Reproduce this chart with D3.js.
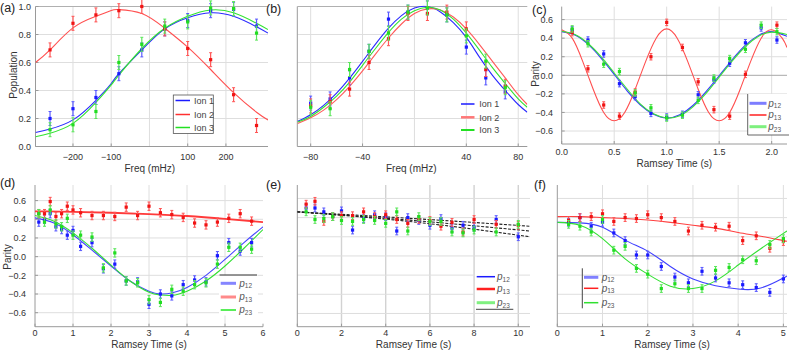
<!DOCTYPE html>
<html><head><meta charset="utf-8">
<script src="https://cdn.jsdelivr.net/npm/d3@7"></script>
<style>body{margin:0;background:#fff}svg{display:block}text{font-family:"Liberation Sans",Arial,sans-serif;fill:#333}</style>
</head><body><svg id="c" width="789" height="355"></svg>
<script>
// ---------- (a) ----------
const aFreq = [-260,-200,-140,-80,-20,40,100,160,220,280];
const aIon1 = [0.20,0.27,0.35,0.52,0.69,0.84,0.90,0.97,0.98,0.86];
const aIon2 = [0.69,0.88,0.94,0.97,1.00,0.84,0.70,0.62,0.37,0.15];
const aIon3 = [0.12,0.155,0.25,0.60,0.73,0.86,0.89,0.99,0.985,0.81];
const aFitFreq = [-298,-260,-200,-140,-100,-80,-20,40,100,160,220,280,310];
const aFit1 = [0.10,0.125,0.19,0.33,0.45,0.52,0.69,0.84,0.92,0.955,0.93,0.855,0.81];
const aFit2 = [0.60,0.69,0.847,0.93,0.972,0.978,0.95,0.845,0.71,0.55,0.385,0.245,0.19];
const aFit3 = [0.07,0.095,0.165,0.315,0.44,0.51,0.70,0.845,0.93,0.975,0.955,0.88,0.835];
const aXTicks = [-200,-100,100,200];
const aYTicks = [0,0.2,0.4,0.6,0.8,1.0];
const aErr = 0.05;
// ---------- (b) ----------
const bFreq = [-80,-65,-50,-35,-20,-5,10,25,40,55,70];
const bIon1 = [0.31,0.34,0.49,0.68,0.91,0.96,0.99,0.94,0.71,0.49,0.39];
const bIon2 = [0.29,0.32,0.41,0.60,0.77,0.95,0.95,0.96,0.84,0.55,0.43];
const bIon3 = [0.28,0.27,0.55,0.68,0.81,0.96,0.99,0.94,0.79,0.61,0.42];
const bFitFreq = [-90,-80,-70,-60,-50,-40,-30,-20,-10,0,10,20,30,40,50,60,70,80,87];
const bFit1 = [0.18,0.227,0.294,0.381,0.488,0.608,0.731,0.845,0.935,0.989,1.0,0.961,0.885,0.779,0.64,0.51,0.40,0.30,0.245];
const bFit2 = [0.165,0.205,0.26,0.335,0.43,0.54,0.66,0.775,0.875,0.95,0.983,0.975,0.925,0.84,0.73,0.61,0.49,0.37,0.30];
const bFit3 = [0.175,0.215,0.28,0.36,0.46,0.58,0.70,0.815,0.91,0.97,0.995,0.975,0.91,0.81,0.69,0.565,0.45,0.34,0.28];
const bXTicks = [-80,-40,40,80];
const bErr = 0.05;
// ---------- (c) ----------
const cTime = [0.1,0.25,0.4,0.55,0.7,0.85,1.0,1.15,1.3,1.45,1.6,1.75,1.9,2.05];
const cP12 = [0.49,0.38,0.23,-0.09,-0.23,-0.41,-0.45,-0.42,-0.21,-0.05,0.13,0.35,0.51,0.38];
const cP13 = [0.46,0.07,-0.32,-0.44,-0.18,0.20,0.57,0.30,-0.07,-0.37,-0.44,0.01,null,0.54];
const cP23 = [0.50,0.34,0.12,0.04,-0.19,-0.35,-0.46,-0.43,-0.27,-0.03,0.18,0.28,0.54,0.47];
const cFitT = [0,0.125,0.25,0.375,0.5,0.625,0.75,0.875,1,1.125,1.25,1.375,1.5,1.625,1.75,1.875,2,2.146];
const cFit12 = [0.47,0.435,0.335,0.185,0.01,-0.17,-0.32,-0.42,-0.46,-0.425,-0.325,-0.175,-0.005,0.17,0.325,0.43,0.47,0.42];
const cFit23 = [0.475,0.44,0.345,0.2,0.025,-0.15,-0.31,-0.415,-0.46,-0.435,-0.34,-0.195,-0.02,0.155,0.31,0.42,0.465,0.44];
const cFit13T = [0,0.1,0.2,0.3,0.4,0.5,0.6,0.7,0.8,0.9,1.0,1.1,1.2,1.3,1.4,1.5,1.6,1.7,1.8,1.9,2.0,2.1,2.146];
const cFit13 = [0.49,0.40,0.15,-0.15,-0.40,-0.49,-0.40,-0.15,0.15,0.40,0.50,0.40,0.15,-0.15,-0.40,-0.49,-0.40,-0.15,0.15,0.40,0.49,0.40,0.30];
const cXTicks = [0,0.5,1.0,1.5,2.0];
const parityTicks = [-0.6,-0.4,-0.2,0,0.2,0.4,0.6];
const cErr = 0.035;
// ---------- (d) ----------
const dTime = [0.1,0.25,0.4,0.55,0.7,0.85,1.0,1.2,1.5,1.8,2.1,2.4,2.7,3.0,3.3,3.6,3.9,4.2,4.5,4.8,5.1,5.4,5.7];
const dP12 = [0.37,0.40,0.46,0.32,0.29,0.23,0.28,0.11,0.15,-0.13,-0.08,-0.26,-0.27,-0.51,-0.40,-0.42,-0.30,-0.25,-0.27,0.01,0.15,0.06,0.15];
const dP13 = [0.46,0.46,0.59,0.43,0.46,0.54,0.50,0.47,0.44,0.44,0.43,0.53,0.44,0.54,0.47,0.45,0.42,0.36,0.34,0.37,0.41,0.46,0.38];
const dP23 = [0.46,0.37,0.50,0.35,0.32,0.41,0.23,0.23,0.21,-0.12,0.04,-0.26,-0.28,-0.46,-0.49,-0.35,-0.37,-0.30,-0.28,-0.08,0.10,0.10,0.08];
const dFitT = [0,0.5,1,1.5,2,2.5,3,3.3,3.6,4,4.5,5,5.5,6];
const dFit12 = [0.415,0.36,0.235,0.07,-0.10,-0.26,-0.37,-0.40,-0.39,-0.33,-0.20,-0.03,0.15,0.32];
const dFit23 = [0.44,0.38,0.255,0.09,-0.09,-0.26,-0.38,-0.41,-0.415,-0.37,-0.26,-0.10,0.09,0.29];
const dFit13T = [0,1,2,3,4,5,6];
const dFit13 = [0.485,0.48,0.47,0.455,0.435,0.405,0.37];
const dXTicks = [0,1,2,3,4,5,6];
const dErr = 0.045;
// ---------- (e) ----------
const eTime = [0.4,0.8,1.2,1.6,2.0,2.5,3.0,3.5,4.0,4.5,5.0,5.5,6.0,6.5,7.0,7.5,8.0,9.0,10.0];
const eP12 = [0.50,0.50,0.46,0.41,0.47,0.27,0.39,0.43,0.41,0.26,0.40,0.37,0.32,0.39,0.29,0.32,0.30,0.38,0.20];
const eP13 = [0.54,0.57,0.36,0.41,0.42,0.42,0.46,0.41,0.43,0.38,0.34,0.38,0.37,0.31,0.35,0.25,0.38,0.33,0.32];
const eP23 = [0.46,0.38,0.39,0.41,0.37,0.36,0.38,0.37,0.34,0.46,0.26,0.41,0.36,0.36,0.25,0.24,0.27,0.25,0.33];
const eFitT = [0,5.25,10.53];
const eFitA = [0.46,0.39,0.31];
const eFitB = [0.46,0.37,0.26];
const eFitC = [0.46,0.355,0.20];
const eXTicks = [0,2,4,6,8,10];
const eErr = 0.04;
// ---------- (f) ----------
const fTime = [0.25,0.5,0.75,1.0,1.25,1.5,1.75,2.0,2.3,2.6,2.9,3.2,3.5,3.8,4.1,4.4,4.7,5.0];
const fP12 = [0.35,0.40,0.31,0.35,0.24,0.16,0.01,0.01,-0.11,-0.22,-0.28,-0.16,-0.23,-0.28,-0.30,-0.33,-0.38,-0.24];
const fP13 = [0.37,0.40,0.41,0.44,0.36,0.40,0.39,0.43,0.40,0.36,0.26,0.32,0.30,0.31,0.16,0.21,0.08,0.15];
const fP23 = [0.33,0.31,0.25,0.38,0.06,0.10,-0.13,-0.19,-0.34,-0.29,-0.34,-0.34,-0.15,-0.12,-0.04,-0.05,0.12,0.18];
const fFitT = [0,0.5,1,1.5,2,2.5,3,3.5,4,4.5,5,5.08];
const fFit12 = [0.35,0.345,0.30,0.165,0.05,-0.11,-0.24,-0.31,-0.345,-0.335,-0.23,-0.21];
const fFit13 = [0.41,0.41,0.40,0.39,0.375,0.35,0.32,0.29,0.245,0.205,0.16,0.155];
const fFit23 = [0.35,0.32,0.18,-0.03,-0.19,-0.315,-0.34,-0.26,-0.095,0.075,0.235,0.26];
const fXTicks = [0,1,2,3,4,5];
const fErr = 0.04;

const BLUE = "#1a1aff", RED = "#f01414", GREEN = "#22dd22";
const BLUE_BAR = "#5a5aff", RED_BAR = "#ff5555", GREEN_BAR = "#5ae65a";

const svg = d3.select("#c");
const defs = svg.append("defs");
let clipN = 0;
const fmtMinus = s => s.replace("-", "\u2212");

function panel(p) {
  const x = d3.scaleLinear().domain(p.xd).range(p.xr);
  const y = d3.scaleLinear().domain(p.yd).range(p.yr);
  const g = svg.append("g");
  const cid = "clip" + (clipN++);
  defs.append("clipPath").attr("id", cid).append("rect")
    .attr("x", p.xr[0]).attr("y", p.yr[1] - 1).attr("width", p.xr[1] - p.xr[0]).attr("height", p.yr[0] - p.yr[1] + 1);
  g.selectAll(null).data(p.gx).join("line")
    .attr("x1", d => x(d)).attr("x2", d => x(d)).attr("y1", p.yr[0]).attr("y2", p.yr[1])
    .attr("stroke", p.gxCol || "#dedede").attr("stroke-width", p.gxW || 1);
  g.selectAll(null).data(p.gy).join("line")
    .attr("x1", p.xr[0]).attr("x2", p.xr[1]).attr("y1", d => y(d)).attr("y2", d => y(d))
    .attr("stroke", "#dedede");
  if (p.zero) g.append("line").attr("x1", p.xr[0]).attr("x2", p.xr[1]).attr("y1", y(0)).attr("y2", y(0)).attr("stroke", "#a8a8a8");
  g.append("line").attr("x1", p.xr[0]).attr("x2", p.xr[0]).attr("y1", p.yr[0]).attr("y2", p.yr[1]).attr("stroke", "#9a9a9a");
  g.append("line").attr("x1", p.xr[0]).attr("x2", p.xr[1]).attr("y1", p.yr[0]).attr("y2", p.yr[0]).attr("stroke", "#9a9a9a");
  if (p.top) g.append("line").attr("x1", p.xr[0]).attr("x2", p.xr[1]).attr("y1", p.yr[1]).attr("y2", p.yr[1]).attr("stroke", "#b0b0b0");
  g.selectAll(null).data(p.xt).join("line")
    .attr("x1", d => x(d)).attr("x2", d => x(d)).attr("y1", p.yr[0]).attr("y2", p.yr[0] - 3).attr("stroke", "#9a9a9a");
  g.selectAll(null).data(p.xt).join("text")
    .attr("x", d => x(d)).attr("y", p.xLabY).attr("text-anchor", "middle").attr("font-size", 9)
    .text(d => fmtMinus(p.xf ? p.xf(d) : String(d)));
  if (p.yt) {
    g.selectAll(null).data(p.yt).join("line")
      .attr("x1", p.xr[0]).attr("x2", p.xr[0] + 3).attr("y1", d => y(d)).attr("y2", d => y(d)).attr("stroke", "#9a9a9a");
    g.selectAll(null).data(p.yt).join("text")
      .attr("x", p.yLabX).attr("y", d => y(d) + 3.2).attr("text-anchor", "end").attr("font-size", 9)
      .text(d => fmtMinus(d3.format(".1f")(d)));
  }
  g.append("text").attr("x", (p.xr[0] + p.xr[1]) / 2 + (p.xTitleDx || 0)).attr("y", p.xTitleY)
    .attr("text-anchor", "middle").attr("font-size", 10).text(p.xTitle);
  if (p.yTitle) g.append("text").attr("transform", `translate(${p.yTitleX},${p.yTitleY}) rotate(-90)`)
    .attr("text-anchor", "middle").attr("font-size", 10).text(p.yTitle);
  g.append("text").attr("x", p.lab[0]).attr("y", p.lab[1]).attr("font-size", 12.5).style("fill", "#222").text(p.label);
  const line = d3.line().x(d => x(d[0])).y(d => y(d[1])).curve(d3.curveNatural);
  const fg = g.append("g").attr("clip-path", `url(#${cid})`);
  p.fits.forEach(f => {
    fg.append("path").attr("d", line(d3.zip(f.t, f.v))).attr("fill", "none")
      .attr("stroke", f.c).attr("stroke-width", f.w || 1.1).attr("stroke-dasharray", f.dash || null);
  });
  p.series.forEach(s => {
    const pts = d3.zip(p.t, s.v).filter(d => d[1] != null);
    const sg = g.append("g");
    sg.selectAll(null).data(pts).join("line")
      .attr("x1", d => x(d[0])).attr("x2", d => x(d[0])).attr("y1", d => y(d[1] - p.err)).attr("y2", d => y(d[1] + p.err))
      .attr("stroke", s.bar).attr("stroke-width", 1.2);
    [-1, 1].forEach(sg2 => {
      sg.selectAll(null).data(pts).join("line")
        .attr("x1", d => x(d[0]) - 1.5).attr("x2", d => x(d[0]) + 1.5)
        .attr("y1", d => y(d[1] + sg2 * p.err)).attr("y2", d => y(d[1] + sg2 * p.err))
        .attr("stroke", s.bar).attr("stroke-width", 1);
    });
    sg.selectAll(null).data(pts).join("rect")
      .attr("x", d => x(d[0]) - 1.6).attr("y", d => y(d[1]) - 1.6).attr("width", 3.2).attr("height", 3.2)
      .attr("fill", s.c);
  });
  return g;
}

function legendLine(x1, x2, yy, c, w) {
  svg.append("line").attr("x1", x1).attr("x2", x2).attr("y1", yy).attr("y2", yy).attr("stroke", c).attr("stroke-width", w);
}
function legendText(tx, yy, txt) {
  svg.append("text").attr("x", tx).attr("y", yy + 3.2).attr("font-size", 9).style("fill", "#444").text(txt);
}
function legendP(tx, yy, sub) {
  const t = svg.append("text").attr("x", tx).attr("y", yy + 3.2).attr("font-size", 10).style("fill", "#555");
  t.append("tspan").attr("font-style", "italic").text("p");
  t.append("tspan").attr("font-size", 6.5).attr("dy", 1.8).text(sub);
}

const ionSeries = (a, b, c) => [
  {v: a, c: BLUE, bar: BLUE_BAR}, {v: b, c: RED, bar: RED_BAR}, {v: c, c: GREEN, bar: GREEN_BAR}];

// (a)
panel({
  xd: [-298, 310], xr: [35.5, 268], yd: [0, 1], yr: [146.5, 6.5],
  gx: [-200, -100, 0, 100, 200], gy: [0.2, 0.4, 0.6, 0.8], top: true,
  xt: aXTicks, xLabY: 160, yt: aYTicks, yLabX: 31,
  xTitle: "Freq (mHz)", xTitleY: 171.5, xTitleDx: -2, yTitle: "Population", yTitleX: 16.5, yTitleY: 75,
  label: "(a)", lab: [0, 11.5],
  t: aFreq, err: aErr, series: ionSeries(aIon1, aIon2, aIon3),
  fits: [{t: aFitFreq, v: aFit1, c: "#2a2aff"}, {t: aFitFreq, v: aFit2, c: "#ff5050"}, {t: aFitFreq, v: aFit3, c: "#33e333"}]
});
svg.append("rect").attr("x", 173.3).attr("y", 95).attr("width", 40).attr("height", 38.5)
  .attr("fill", "#fff").attr("stroke", "#555").attr("stroke-width", 0.8);
[[100.5, "#1a1aff", "Ion 1"], [114.5, "#ff3030", "Ion 2"], [127.5, "#22e022", "Ion 3"]].forEach(e => {
  legendLine(175.5, 190, e[0], e[1], 1.5); legendText(194, e[0], e[2]);
});

// (b)
panel({
  xd: [-90.3, 87], xr: [297.3, 527.3], yd: [0, 1], yr: [146.5, 6.5],
  gx: [-80, -40, 0, 40, 80], gy: [0.2, 0.4, 0.6, 0.8], top: true,
  xt: bXTicks, xLabY: 160,
  xTitle: "Freq (mHz)", xTitleY: 171.5, xTitleDx: -1,
  label: "(b)", lab: [266, 12.5],
  t: bFreq, err: bErr, series: ionSeries(bIon1, bIon2, bIon3),
  fits: [{t: bFitFreq, v: bFit1, c: "#2a2aff"}, {t: bFitFreq, v: bFit2, c: "#ff5a5a"}, {t: bFitFreq, v: bFit3, c: "#33e333"}]
});
[[104, "#1a1aff", 1.5, "Ion 1"], [117.3, "#ff7777", 2.5, "Ion 2"], [130, "#22e022", 2, "Ion 3"]].forEach(e => {
  legendLine(461, 474.5, e[0], e[1], e[2]); legendText(479.3, e[0], e[3]);
});

// (c)
panel({
  xd: [0, 2.146], xr: [561.7, 787], yd: [-0.74, 0.74], yr: [144, 6.6],
  gx: [0.5, 1.0, 1.5, 2.0], gy: [-0.6, -0.4, -0.2, 0.2, 0.4, 0.6], zero: true,
  xt: cXTicks, xf: d => d3.format(".1f")(d), xLabY: 154.8, yt: parityTicks, yLabX: 553,
  xTitle: "Ramsey Time (s)", xTitleY: 166.5, xTitleDx: 0, yTitle: "Parity", yTitleX: 538.5, yTitleY: 74,
  label: "(c)", lab: [532, 13.5],
  t: cTime, err: cErr, series: ionSeries(cP12, cP13, cP23),
  fits: [{t: cFitT, v: cFit12, c: "#3535ff"}, {t: cFit13T, v: cFit13, c: "#ff5050"}, {t: cFitT, v: cFit23, c: "#3ae03a"}]
});
svg.append("rect").attr("x", 747.7).attr("y", 94).attr("width", 41).attr("height", 41).attr("fill", "#fff");
svg.append("path").attr("d", "M747.7,94V135H789").attr("fill", "none").attr("stroke", "#555").attr("stroke-width", 0.9);
legendLine(749.5, 766.5, 103.3, "#7d7dff", 3); legendP(768.3, 103.3, "12");
legendLine(749.5, 766.5, 115, "#ff2020", 1.5); legendP(768.3, 115, "13");
legendLine(749.5, 766.5, 126.7, "#7ef07e", 3); legendP(768.3, 126.7, "23");

// (d)
panel({
  xd: [0, 6], xr: [35, 263], yd: [-0.75, 0.767], yr: [326.7, 185],
  gx: [1, 2, 3, 4, 5], gy: [-0.6, -0.4, -0.2, 0, 0.2, 0.4, 0.6],
  xt: dXTicks, xLabY: 336, yt: parityTicks, yLabX: 26,
  xTitle: "Ramsey Time (s)", xTitleY: 347.5, xTitleDx: 0, yTitle: "Parity", yTitleX: 11, yTitleY: 257,
  label: "(d)", lab: [0, 187],
  t: dTime, err: dErr, series: ionSeries(dP12, dP13, dP23),
  fits: [{t: dFit13T, v: dFit13, c: "#ff3a3a", w: 1.8}, {t: dFitT, v: dFit12, c: "#4646ff"}, {t: dFitT, v: dFit23, c: "#33e033"}]
});
svg.append("rect").attr("x", 219).attr("y", 275.5).attr("width", 39).attr("height", 40).attr("fill", "#fff");
legendLine(219.5, 257, 275, "#333", 1);
legendLine(220.7, 236, 283.3, "#8585ff", 3); legendP(239.3, 283.3, "12");
legendLine(220.7, 236, 297, "#ff8a8a", 3); legendP(239.3, 297, "13");
legendLine(220.7, 236, 310, "#22e822", 1.5); legendP(239.3, 310, "23");

// (e)
panel({
  xd: [0, 10.53], xr: [297.3, 530], yd: [-0.738, 0.74], yr: [326.7, 185],
  gx: [2, 4, 6, 8, 10], gxCol: "#d2d2d2", gxW: 1.4, gy: [-0.6, -0.4, -0.2, 0, 0.2, 0.4, 0.6],
  xt: eXTicks, xLabY: 336,
  xTitle: "Ramsey Time (s)", xTitleY: 347.5, xTitleDx: 0,
  label: "(e)", lab: [266, 189],
  t: eTime, err: eErr, series: ionSeries(eP12, eP13, eP23),
  fits: [{t: eFitT, v: eFitA, c: "#222", dash: "3,1.5"}, {t: eFitT, v: eFitB, c: "#222", dash: "3,1.5"}, {t: eFitT, v: eFitC, c: "#222", dash: "3,1.5"}]
});
svg.append("rect").attr("x", 475).attr("y", 270).attr("width", 40).attr("height", 39).attr("fill", "#fff");
legendLine(476.7, 495, 276.7, "#1a1aff", 1.5); legendP(497, 276.7, "12");
legendLine(476.7, 495, 289, "#ff2020", 2.5); legendP(497, 289, "13");
legendLine(476.7, 495, 302.7, "#80f080", 3); legendP(497, 302.7, "23");
legendLine(476, 513.3, 309.3, "#444", 1);

// (f)
panel({
  xd: [0, 5.08], xr: [557.3, 787], yd: [-0.738, 0.74], yr: [326.7, 185],
  gx: [1, 2, 3, 4, 5], gy: [-0.6, -0.4, -0.2, 0.2, 0.4, 0.6], zero: true,
  xt: fXTicks, xLabY: 336,
  xTitle: "Ramsey Time (s)", xTitleY: 347.5, xTitleDx: 0,
  label: "(f)", lab: [534, 189],
  t: fTime, err: fErr, series: ionSeries(fP12, fP13, fP23),
  fits: [{t: fFitT, v: fFit12, c: "#4040ff"}, {t: fFitT, v: fFit13, c: "#ff4040"}, {t: fFitT, v: fFit23, c: "#33e033"}]
});
svg.append("line").attr("x1", 582.3).attr("x2", 582.3).attr("y1", 268.3).attr("y2", 308.3).attr("stroke", "#444");
legendLine(584, 598.3, 277.3, "#8080ff", 3); legendP(601.7, 277.3, "12");
legendLine(584, 598.3, 288.3, "#ff2020", 1.5); legendP(601.7, 288.3, "13");
legendLine(584, 598.3, 302.7, "#30e030", 1.5); legendP(601.7, 302.7, "23");
</script></body></html>
